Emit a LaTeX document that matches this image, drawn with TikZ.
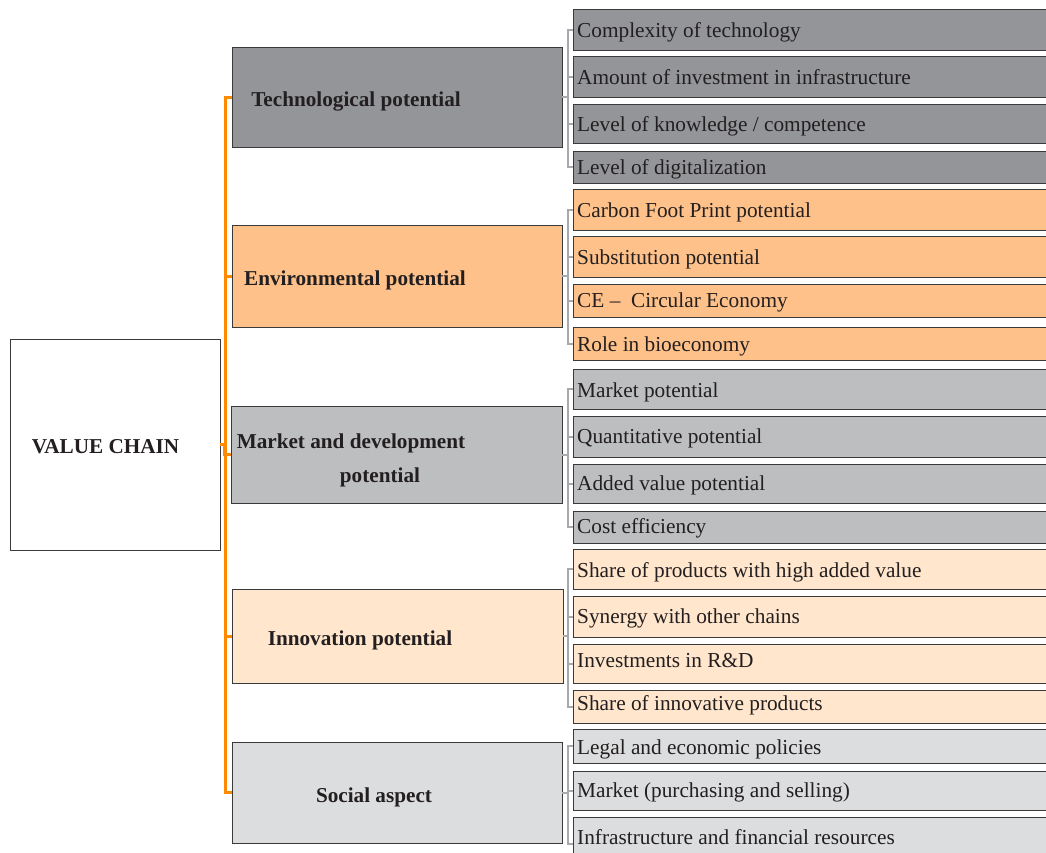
\documentclass[tikz,border=0pt]{standalone}
\usepackage{fontspec}
\setmainfont{Liberation Serif}
\definecolor{techgray}{HTML}{939598}
\definecolor{envorange}{HTML}{FFC18A}
\definecolor{mktgray}{HTML}{BCBEC0}
\definecolor{innocream}{HTML}{FFE6CC}
\definecolor{socgray}{HTML}{DCDDDE}
\definecolor{boxline}{HTML}{3A3A3A}
\definecolor{twig}{HTML}{A7A9AC}
\definecolor{trunk}{HTML}{FF8A00}
\definecolor{ink}{HTML}{231F20}
\begin{document}
\begin{tikzpicture}[x=1pt,y=-1pt,
  box/.style={draw=boxline, line width=1pt, inner sep=0pt, outer sep=0pt},
  itemtext/.style={anchor=base west, inner sep=0pt, font=\fontsize{21.3}{24}\selectfont, text=ink},
  cattext/.style={anchor=base, inner sep=0pt, font=\fontsize{21.2}{24}\selectfont\bfseries, text=ink},
  twigline/.style={draw=twig, line width=2pt, line join=miter},
  trunkline/.style={draw=trunk, line width=3pt, line join=miter}]
\useasboundingbox (0,0) rectangle (1046,852);
\clip (0,0) rectangle (1046,852);
\fill[white] (0,0) rectangle (1046,852);

% root box
\node[box, fill=white, minimum width=210pt, minimum height=211pt] (vc) at (115,444.5) {};
\node[cattext] (vclabel) at (105.5,453) {VALUE CHAIN};

% category boxes
\node[box, fill=techgray,  minimum width=330pt, minimum height=100pt] (tech) at (397,97) {};
\node[box, fill=envorange, minimum width=330pt, minimum height=102pt] (env)  at (397,276) {};
\node[box, fill=mktgray,   minimum width=331pt, minimum height=97pt]  (mkt)  at (396.5,454.5) {};
\node[box, fill=innocream, minimum width=331pt, minimum height=94pt]  (inno) at (397.5,636) {};
\node[box, fill=socgray,   minimum width=330pt, minimum height=101pt] (soc)  at (397,792.5) {};

\node[cattext] (techlabel) at (356,106) {Technological potential};
\node[cattext] (envlabel)  at (355,285) {Environmental potential};
\node[cattext] (mktlabelA) at (351,448) {Market and development};
\node[cattext] (mktlabelB) at (380,482) {potential};
\node[cattext] (innolabel) at (360,645) {Innovation potential};
\node[cattext] (soclabel)  at (374,802) {Social aspect};

% item boxes: name / top / bottom / fill / text baseline / text
\foreach \n/\t/\b/\c/\y/\txt in {
  t1/9/50/techgray/37/{Complexity of technology},
  t2/56/97/techgray/84/{Amount of investment in infrastructure},
  t3/104/143/techgray/131/{Level of knowledge / competence},
  t4/151/183/techgray/174/{Level of digitalization},
  e1/189/230/envorange/217/{Carbon Foot Print potential},
  e2/236/277/envorange/264/{Substitution potential},
  e3/284/317/envorange/307/{CE – \ Circular Economy},
  e4/327/360/envorange/351/{Role in bioeconomy},
  m1/369/409/mktgray/397/{Market potential},
  m2/416/457/mktgray/443/{Quantitative potential},
  m3/464/503/mktgray/490/{Added value potential},
  m4/511/543/mktgray/533/{Cost efficiency},
  i1/549/589/innocream/577/{Share of products with high added value},
  i2/596/637/innocream/623/{Synergy with other chains},
  i3/644/683/innocream/667/{Investments in R\&D},
  i4/690/723/innocream/710/{Share of innovative products},
  s1/729/763/socgray/754/{Legal and economic policies},
  s2/771/810/socgray/797/{Market (purchasing and selling)},
  s3/817/870/socgray/844/{Infrastructure and financial resources}} {
  \node[box, fill=\c, minimum width=490pt, minimum height={\b-\t}] (\n) at (818,{(\t+\b)/2}) {};
  \node[itemtext] (\n label) at (577,\y) {\txt};
}

% grey brackets from each category to its items
\foreach \p/\list in {tech/{t1,t2,t3,t4}, env/{e1,e2,e3,e4}, mkt/{m1,m2,m3,m4},
                      inno/{i1,i2,i3,i4}, soc/{s1,s2,s3}} {
  \foreach \q in \list {
    \draw[twigline] (\p.east) -| ([xshift=-5pt]\q.west) -- (\q.west);
  }
}

% orange trunk from the root to each category
\foreach \q in {tech,env,mkt,inno,soc} {
  \draw[trunkline] (vc.east) -| ([xshift=-7pt]\q.west) -- (\q.west);
}
\end{tikzpicture}
\end{document}
